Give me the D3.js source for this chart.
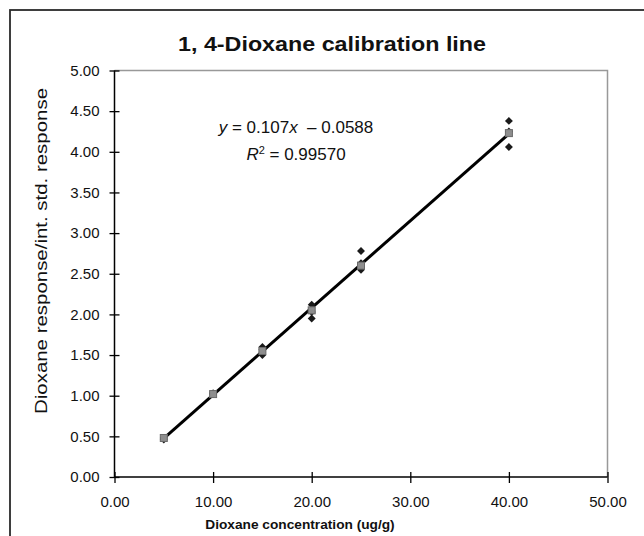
<!DOCTYPE html>
<html>
<head>
<meta charset="utf-8">
<script src="https://cdn.jsdelivr.net/npm/d3@7"></script>
<style>
  body { margin: 0; background: #fff; }
  svg text { font-family: "Liberation Sans", Arial, Helvetica, sans-serif; fill: #111; }
</style>
</head>
<body>
<div id="chart"></div>
<script>
// Replicate measurements (black diamonds)
const sampleConc = [5, 5, 10, 10, 15, 15, 15, 20, 20, 20, 25, 25, 25, 40, 40, 40];
const sampleResp = [0.48, 0.46, 1.03, 1.02, 1.60, 1.57, 1.50, 2.12, 2.03, 1.95, 2.78, 2.63, 2.55, 4.38, 4.25, 4.06];
// Level means (grey squares)
const meanConc = [5, 10, 15, 20, 25, 40];
const meanResp = [0.48, 1.02, 1.55, 2.05, 2.60, 4.23];
// Trendline
const slope = 0.107, intercept = -0.0588, rSquared = "0.99570";
const xTicks = [0, 10, 20, 30, 40, 50];
const yTicks = [0, 0.5, 1, 1.5, 2, 2.5, 3, 3.5, 4, 4.5, 5];

let w = 644, h = 536;
let padL = 114.5, padR = 607.5, padT = 70.5, padB = 477;

let svg = d3.select("#chart").append("svg").attr("width", w).attr("height", h);

// Outer chart frame (runs off the right and bottom edges)
svg.append("rect").attr("x", 10).attr("y", 10).attr("width", 660).attr("height", 560)
  .attr("fill", "none").attr("stroke", "#2a2a2a").attr("stroke-width", 1.8);

let xScale = d3.scaleLinear().domain([0, 50]).range([padL, padR]);
let yScale = d3.scaleLinear().domain([0, 5]).range([padB, padT]);

// Plot area border (grey top & right)
svg.append("path").attr("d", `M${padL},${padT}H${padR}V${padB}`)
  .attr("fill", "none").attr("stroke", "#999").attr("stroke-width", 1.5);

// Axes with ticks crossing the line
let xAxis = d3.axisBottom(xScale).tickValues(xTicks).tickFormat(d3.format(".2f")).tickSize(5).tickPadding(14);
let yAxis = d3.axisLeft(yScale).tickValues(yTicks).tickFormat(d3.format(".2f")).tickSize(5).tickPadding(10);

let gx = svg.append("g").attr("transform", `translate(0,${padB})`).call(xAxis);
let gy = svg.append("g").attr("transform", `translate(${padL},0)`).call(yAxis);
[gx, gy].forEach(g => {
  g.select(".domain").attr("stroke", "#000").attr("stroke-width", 1.5);
  g.selectAll(".tick line").attr("stroke", "#000").attr("stroke-width", 1.3);
  g.selectAll(".tick text").attr("font-size", 15).attr("fill", "#111")
    .style("font-family", "'Liberation Sans', Arial, sans-serif");
});
gx.selectAll(".tick line").attr("y1", -5).attr("y2", 6);
gy.selectAll(".tick line").attr("x1", 5).attr("x2", -5);
gx.select(".domain").attr("d", `M${padL},0H${padR}`);
gy.select(".domain").attr("d", `M0,${padB}V${padT}`);

// Trendline across data range
let xs = d3.extent(sampleConc);
svg.append("line")
  .attr("x1", xScale(xs[0])).attr("y1", yScale(slope * xs[0] + intercept))
  .attr("x2", xScale(xs[1])).attr("y2", yScale(slope * xs[1] + intercept))
  .attr("stroke", "#000").attr("stroke-width", 3);

// Replicate points
let diamond = d3.symbol().type(d3.symbolDiamond2).size(40);
svg.append("g").selectAll("path").data(sampleConc).enter().append("path")
  .attr("d", diamond)
  .attr("transform", (d, i) => `translate(${xScale(d)},${yScale(sampleResp[i])})`)
  .attr("fill", "#1a1a1a");

// Mean points (drawn over the replicates)
svg.append("g").selectAll("rect").data(meanConc).enter().append("rect")
  .attr("x", d => xScale(d) - 3.5).attr("y", (d, i) => yScale(meanResp[i]) - 3.5)
  .attr("width", 7).attr("height", 7).attr("fill", "#8e8e8e")
  .attr("stroke", "#6a6a6a").attr("stroke-width", 1);

// Title
svg.append("text").attr("x", 332).attr("y", 51).attr("text-anchor", "middle")
  .attr("font-size", 21).attr("font-weight", "bold")
  .attr("textLength", 308).attr("lengthAdjust", "spacingAndGlyphs")
  .text("1, 4-Dioxane calibration line");

// Axis titles
svg.append("text").attr("x", 300).attr("y", 529).attr("text-anchor", "middle")
  .attr("font-size", 13.7).attr("font-weight", "bold").text("Dioxane concentration (ug/g)");
svg.append("text").attr("transform", "translate(47,251) rotate(-90)").attr("text-anchor", "middle")
  .attr("font-size", 16).attr("textLength", 326).attr("lengthAdjust", "spacingAndGlyphs")
  .text("Dioxane response/int. std. response");

// Regression equation
let eq = svg.append("text").attr("x", 296).attr("y", 133).attr("text-anchor", "middle").attr("font-size", 17);
eq.append("tspan").attr("font-style", "italic").text("y");
eq.append("tspan").text(" = " + slope.toFixed(3));
eq.append("tspan").attr("font-style", "italic").text("x");
eq.append("tspan").text("\u00a0 \u2013 " + Math.abs(intercept).toFixed(4));

let r2 = svg.append("text").attr("x", 296).attr("y", 160).attr("text-anchor", "middle").attr("font-size", 17);
r2.append("tspan").attr("font-style", "italic").text("R");
r2.append("tspan").attr("font-size", 11).attr("dy", -6).text("2");
r2.append("tspan").attr("dy", 6).text(" = " + rSquared);
</script>
</body>
</html>
